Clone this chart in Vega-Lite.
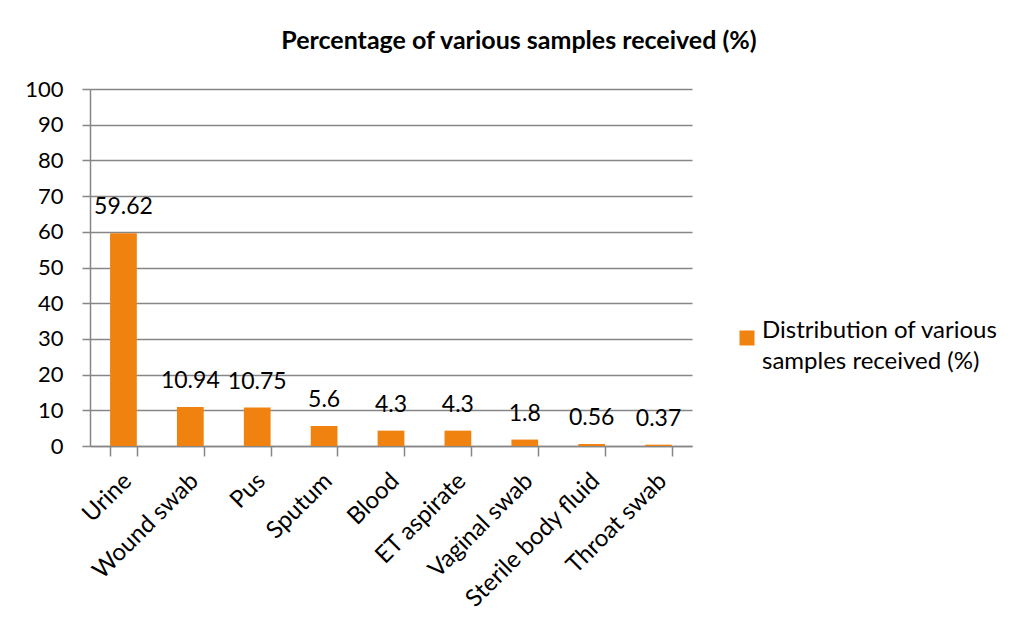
{
  "$schema": "https://vega.github.io/schema/vega-lite/v6.json",
  "autosize": "none",
  "width": 602,
  "height": 357,
  "padding": {"left": 90, "top": 89, "right": 324, "bottom": 186},
  "background": "white",
  "title": {
    "text": "Percentage of various samples received (%)",
    "font": "Lato",
    "fontSize": 25,
    "fontWeight": "bold",
    "color": "#000000",
    "anchor": "middle",
    "dx": 128,
    "offset": 24
  },
  "config": {
    "view": {"stroke": null},
    "font": "Lato",
    "style": {"guide-label": {"lineHeight": 31}}
  },
  "data": {
    "values": [
      {"sample": "Urine", "pct": 59.62, "series": "Distribution of various samples received (%)"},
      {"sample": "Wound swab", "pct": 10.94, "series": "Distribution of various samples received (%)"},
      {"sample": "Pus", "pct": 10.75, "series": "Distribution of various samples received (%)"},
      {"sample": "Sputum", "pct": 5.6, "series": "Distribution of various samples received (%)"},
      {"sample": "Blood", "pct": 4.3, "series": "Distribution of various samples received (%)"},
      {"sample": "ET aspirate", "pct": 4.3, "series": "Distribution of various samples received (%)"},
      {"sample": "Vaginal swab", "pct": 1.8, "series": "Distribution of various samples received (%)"},
      {"sample": "Sterile body fluid", "pct": 0.56, "series": "Distribution of various samples received (%)"},
      {"sample": "Throat swab", "pct": 0.37, "series": "Distribution of various samples received (%)"}
    ]
  },
  "encoding": {
    "x": {
      "field": "sample",
      "type": "nominal",
      "sort": null,
      "scale": {"paddingInner": 0.6, "paddingOuter": 0.3},
      "axis": {
        "title": null,
        "tickBand": "extent",
        "tickSize": 10,
        "tickColor": "#868686",
        "tickWidth": 1.5,
        "domainColor": "#868686",
        "domainWidth": 1.5,
        "labelAngle": -45,
        "labelAlign": "right",
        "labelBaseline": "middle",
        "labelFont": "Lato",
        "labelFontSize": 24,
        "labelColor": "#000000",
        "labelOffset": 4,
        "labelPadding": 21,
        "labelLimit": 300,
        "grid": false
      }
    },
    "y": {
      "field": "pct",
      "type": "quantitative",
      "scale": {"domain": [0, 100]},
      "axis": {
        "title": null,
        "values": [0, 10, 20, 30, 40, 50, 60, 70, 80, 90, 100],
        "tickSize": 8,
        "tickColor": "#868686",
        "tickWidth": 1.5,
        "domainColor": "#868686",
        "domainWidth": 1.5,
        "gridColor": "#868686",
        "gridWidth": 1.5,
        "labelFont": "Lato",
        "labelFontSize": 22,
        "labelColor": "#000000",
        "labelPadding": 19
      }
    }
  },
  "layer": [
    {
      "mark": {"type": "bar"},
      "encoding": {
        "color": {
          "field": "series",
          "type": "nominal",
          "scale": {"range": ["#F0820F"]},
          "legend": {
            "title": null,
            "orient": "none",
            "legendX": 645,
            "legendY": 237,
            "symbolType": "square",
            "symbolSize": 225,
            "symbolStrokeWidth": 0,
            "labelFont": "Lato",
            "labelFontSize": 24,
            "labelColor": "#000000",
            "labelBaseline": "alphabetic",
            "labelLimit": 400,
            "labelOffset": 3,
            "labelExpr": "['Distribution of various', 'samples received (%)']"
          }
        }
      }
    },
    {
      "mark": {"type": "text", "baseline": "alphabetic", "dy": -19, "font": "Lato", "fontSize": 23, "color": "#000000"},
      "encoding": {
        "text": {"field": "pct", "type": "quantitative"}
      }
    }
  ]
}
